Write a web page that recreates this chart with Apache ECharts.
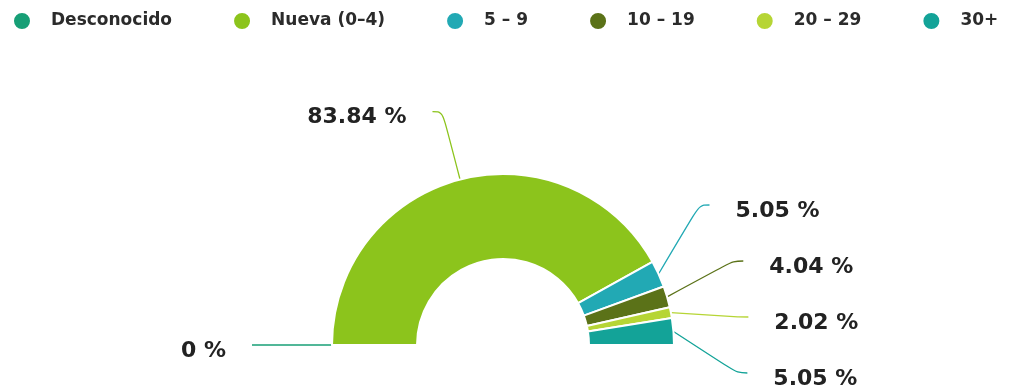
<!DOCTYPE html>
<html>
<head>
<meta charset="utf-8">
<script src="https://cdn.jsdelivr.net/npm/echarts@6/dist/echarts.min.js"></script>
<style>
html,body{margin:0;padding:0;background:#fff;}
#main{width:1010px;height:390px;}
</style>
</head>
<body>
<div id="main"></div>
<script>
const categories = ['Desconocido', 'Nueva (0–4)', '5 – 9', '10 – 19', '20 – 29', '30+'];
const counts = [0, 83, 5, 4, 2, 5];
const colors = ['#179f76', '#8cc41c', '#22a9b4', '#5b7218', '#b6d535', '#13a398'];

const chart = echarts.init(document.getElementById('main'));
const total = counts.reduce((a, b) => a + b, 0);
chart.setOption({
  animation: false,
  color: colors,
  legend: {
    top: 11,
    left: 12,
    width: 998,
    padding: 0,
    itemWidth: 18,
    itemHeight: 18,
    itemGap: 60,
    icon: 'circle',
    textStyle: { fontFamily: 'DejaVu Sans', fontWeight: 'bold', fontSize: 17, color: '#2b2b2b', padding: [0, 0, 0, 15] },
    data: categories
  },
  series: [{
    type: 'pie',
    top: 0,
    bottom: -11,
    left: 0,
    right: 0,
    center: [503, 345],
    radius: [86, 171],
    startAngle: 180,
    endAngle: 360,
    avoidLabelOverlap: true,
    itemStyle: { borderColor: '#fff', borderWidth: 2 },
    label: {
      formatter: p => '{s|}\n{v|' + (total ? (p.value / total * 100) : 0).toFixed(p.value ? 2 : 0) + ' %}',
      padding: [8, 21, 8, 21],
      backgroundColor: 'rgba(255,255,255,0)',
      rich: {
        s: { fontSize: 10, lineHeight: 12, height: 12 },
        v: { fontFamily: 'DejaVu Sans', fontWeight: 'bold', fontSize: 22, lineHeight: 26, color: '#222' }
      }
    },
    labelLine: { length: 70, length2: 10, smooth: 0.4, lineStyle: { width: 1.3 } },
    data: categories.map((c, i) => ({
      name: c,
      value: counts[i],
      labelLine: i === 2 ? { length: 45 } : undefined
    }))
  }]
});
</script>
</body>
</html>
